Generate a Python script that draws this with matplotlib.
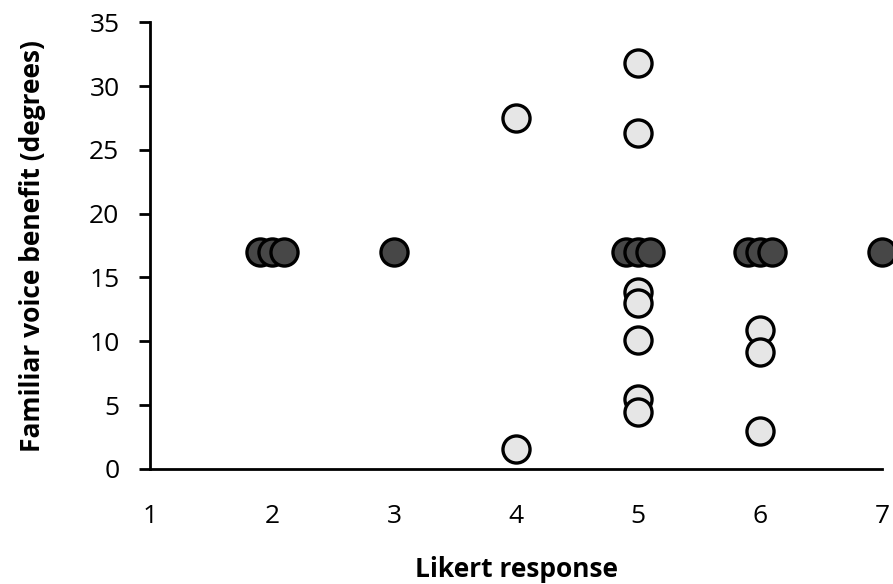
import matplotlib
matplotlib.use("Agg")
import matplotlib.pyplot as plt

# Data
dark_x = [1.9, 2.0, 2.1, 3.0, 4.9, 5.0, 5.1, 5.9, 6.0, 6.1, 7.0]
dark_y = [17, 17, 17, 17, 17, 17, 17, 17, 17, 17, 17]
light_x = [4, 4, 5, 5, 5, 5, 5, 5, 5, 6, 6, 6]
light_y = [27.5, 1.6, 31.8, 26.3, 13.9, 13.0, 10.1, 5.5, 4.5, 10.9, 9.2, 3.0]
x_ticks = [1, 2, 3, 4, 5, 6, 7]
y_ticks = [0, 5, 10, 15, 20, 25, 30, 35]

plt.rcParams['font.family'] = ['Open Sans', 'DejaVu Sans']

fig = plt.figure(figsize=(8.93, 5.84), dpi=100)
ax = fig.add_axes([0.168, 0.197, 0.820, 0.765])

ax.scatter(light_x, light_y, s=380, facecolor='#e6e6e6', edgecolor='black',
           linewidths=2.4, zorder=3, clip_on=False)
ax.scatter(dark_x, dark_y, s=380, facecolor='#474747', edgecolor='black',
           linewidths=2.4, zorder=3, clip_on=False)

ax.set_xlim(1, 7)
ax.set_ylim(0, 35)
ax.set_xticks(x_ticks)
ax.set_yticks(y_ticks)
ax.tick_params(axis='x', length=0, pad=25, labelsize=19)
ax.tick_params(axis='y', length=8, width=2, pad=14, labelsize=19)
for s in ['top', 'right']:
    ax.spines[s].set_visible(False)
for s in ['left', 'bottom']:
    ax.spines[s].set_linewidth(2)

ax.set_xlabel('Likert response', fontsize=19, fontweight='bold', labelpad=20)
ax.set_ylabel('Familiar voice benefit (degrees)', fontsize=19, fontweight='bold', labelpad=31)

fig.savefig('out.png', dpi=100)
